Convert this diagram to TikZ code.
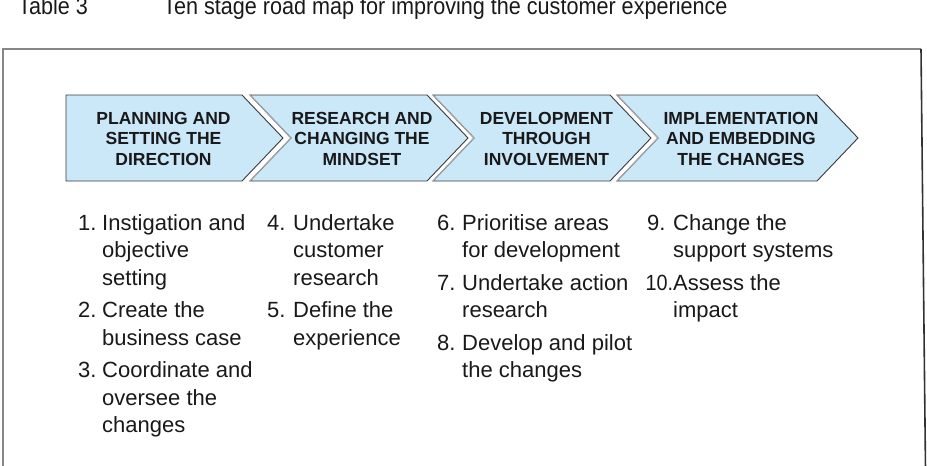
\documentclass[tikz,border=0pt]{standalone}
\usepackage{fontspec}
\setmainfont{Liberation Sans}
\definecolor{chevfill}{RGB}{203,232,249}
\definecolor{chevline}{RGB}{58,58,58}
\definecolor{inktext}{RGB}{25,25,25}
\definecolor{framegray}{RGB}{135,135,135}
\definecolor{framedark}{RGB}{50,50,50}
\begin{document}
\begin{tikzpicture}[x=1pt,y=-1pt,
  chevron/.style={fill=chevfill, draw=chevline, line width=0.9pt, line join=miter},
  notchedge/.style={draw=black!35, line width=1.1pt},
  phase/.style={font=\bfseries\fontsize{17.5}{20.5}\selectfont, align=center, text=inktext, inner sep=0pt},
  entry/.style={font=\fontsize{22}{27.5}\selectfont, anchor=base west, inner sep=0pt, text=inktext},
  caption/.style={font=\fontsize{24}{28}\selectfont, anchor=base west, inner sep=0pt, text=inktext}]
\useasboundingbox (0,0) rectangle (927,466);

% caption above the frame
\node[caption] (tabno) at (18,14) {\scalebox{0.9}[1]{Table 3}};
\node[caption] (tabtitle) at (163,14) {\scalebox{0.9}[1]{Ten stage road map for improving the customer experience}};

% open frame
\draw[framegray, line width=1.4pt] (3,470) -- (3,49) -- (921,49);
\draw[framedark, line width=1.6pt] (921,49) -- (925.5,470);

% four phase chevrons
\path[chevron] (66,95) -- (242,95) -- (283,138) -- (242,181) -- (66,181) -- cycle;
\path[chevron] (250,95) -- (427,95) -- (468,138) -- (427,181) -- (250,181) -- (291,138) -- cycle;
\path[chevron] (433,95) -- (610,95) -- (651,138) -- (610,181) -- (433,181) -- (474,138) -- cycle;
\path[chevron] (617,95) -- (817,95) -- (858,138) -- (817,181) -- (617,181) -- (658,138) -- cycle;
\draw[notchedge] (250,95) -- (291,138) -- (250,181);
\draw[notchedge] (433,95) -- (474,138) -- (433,181);
\draw[notchedge] (617,95) -- (658,138) -- (617,181);

\node[phase] (p1) at (163.5,138.5) {PLANNING AND\\SETTING THE\\DIRECTION};
\node[phase] (p2) at (362,138.5) {RESEARCH AND\\CHANGING THE\\MINDSET};
\node[phase] (p3) at (546.5,138.5) {DEVELOPMENT\\THROUGH\\INVOLVEMENT};
\node[phase] (p4) at (741,138.5) {IMPLEMENTATION\\AND EMBEDDING\\THE CHANGES};

% stage list, column 1
\node[entry] (n1) at (78,230) {1.};
\node[entry] (s1a) at (102,230) {Instigation and};
\node[entry] (s1b) at (102,257.5) {objective};
\node[entry] (s1c) at (102,285) {setting};
\node[entry] (n2) at (78,317.5) {2.};
\node[entry] (s2a) at (102,317.5) {Create the};
\node[entry] (s2b) at (102,345) {business case};
\node[entry] (n3) at (78,377.5) {3.};
\node[entry] (s3a) at (102,377.5) {Coordinate and};
\node[entry] (s3b) at (102,405) {oversee the};
\node[entry] (s3c) at (102,432.5) {changes};

% column 2
\node[entry] (n4) at (267,230) {4.};
\node[entry] (s4a) at (293,230) {Undertake};
\node[entry] (s4b) at (293,257.5) {customer};
\node[entry] (s4c) at (293,285) {research};
\node[entry] (n5) at (267,317.5) {5.};
\node[entry] (s5a) at (293,317.5) {Define the};
\node[entry] (s5b) at (293,345) {experience};

% column 3
\node[entry] (n6) at (437,230) {6.};
\node[entry] (s6a) at (462,230) {Prioritise areas};
\node[entry] (s6b) at (462,257.5) {for development};
\node[entry] (n7) at (437,290) {7.};
\node[entry] (s7a) at (462,290) {Undertake action};
\node[entry] (s7b) at (462,317.5) {research};
\node[entry] (n8) at (437,350) {8.};
\node[entry] (s8a) at (462,350) {Develop and pilot};
\node[entry] (s8b) at (462,377.5) {the changes};

% column 4
\node[entry] (n9) at (647,230) {9.};
\node[entry] (s9a) at (673,230) {Change the};
\node[entry] (s9b) at (673,257.5) {support systems};
\node[entry] (n10) at (645.5,290) {\scalebox{0.9}[1]{10.}};
\node[entry] (s10a) at (673,290) {Assess the};
\node[entry] (s10b) at (673,317.5) {impact};
\end{tikzpicture}
\end{document}
